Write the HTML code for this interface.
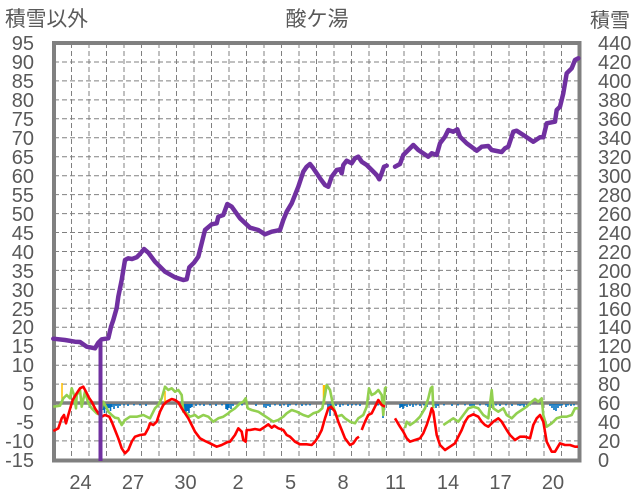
<!DOCTYPE html>
<html><head><meta charset="utf-8"><style>
html,body{margin:0;padding:0;background:#fff;}
svg{display:block;}
text{font-family:"Liberation Sans","Noto Sans CJK JP",sans-serif;fill:#595959;}
</style></head><body>
<svg width="636" height="501" viewBox="0 0 636 501" xmlns="http://www.w3.org/2000/svg">
<rect width="636" height="501" fill="#fff"/>
<!-- titles -->
<text x="5" y="26" font-size="20.75">積雪以外</text>
<text x="317" y="26" font-size="21" text-anchor="middle">酸ケ湯</text>
<text x="590" y="27" font-size="20">積雪</text>
<!-- grid -->
<g stroke="#808080" stroke-width="1" stroke-dasharray="5 3" fill="none">
<path d="M71.5 43V460M89 43V460M106.5 43V460M124 43V460M141.5 43V460M159 43V460M176.5 43V460M194 43V460M211.5 43V460M229 43V460M246.5 43V460M264 43V460M281.5 43V460M299 43V460M316.5 43V460M334 43V460M351.5 43V460M369 43V460M386.5 43V460M404 43V460M421.5 43V460M439 43V460M456.5 43V460M474 43V460M491.5 43V460M509 43V460M526.5 43V460M544 43V460M561.5 43V460"/>
<path d="M54 62H579M54 80.9H579M54 99.9H579M54 118.8H579M54 137.8H579M54 156.7H579M54 175.7H579M54 194.6H579M54 213.6H579M54 232.5H579M54 251.5H579M54 270.4H579M54 289.4H579M54 308.3H579M54 327.3H579M54 346.2H579M54 365.2H579M54 384.1H579M54 422H579M54 440.9H579"/>
</g>
<!-- border -->
<rect x="54" y="43" width="525.5" height="417.5" fill="none" stroke="#808080" stroke-width="4"/>
<!-- zero line -->
<line x1="54" y1="403" x2="579" y2="403" stroke="#808080" stroke-width="3.5"/>
<!-- blue bars -->
<path stroke="#0070c0" stroke-width="1.6" fill="none" d="M103 404V410M104.5 404V413M106 404V409M107.5 404V412M109 404V408M110.5 404V411M112 404V407M114 404V409M116 404V406M118 404V408M120 404V406M124 404V405.5M128 404V406M134 404V405.5M140 404V405.5M146 404V406M183 404V409M184.5 404V412M186 404V414M187.5 404V411M189 404V413M190.5 404V408M192 404V407M196 404V406M200 404V405.5M204 404V406M210 404V405.5M216 404V406M222 404V405.5M226 404V409M227.5 404V410M229 404V408M231 404V409M233 404V406M238 404V405.5M242 404V405.5M256 404V406M264 404V407M266 404V408M268 404V406M270 404V407M275 404V405.5M280 404V406M284 404V405.5M288 404V407M290 404V405.5M296 404V405.5M302 404V406M306 404V405.5M310 404V405.5M328 404V408M330 404V416M331.5 404V410M333 404V408M336 404V406M340 404V407M343 404V405.5M348 404V406M352 404V405.5M356 404V405.5M360 404V406M376 404V406M378 404V405.5M383 404V418M384.5 404V410M400 404V408M401.5 404V407M403 404V409M405 404V406M407 404V407M410 404V406M413 404V407M416 404V405.5M420 404V406M424 404V405.5M427 404V407M434 404V406M436 404V408M438 404V406M444 404V405.5M452 404V406M458 404V405.5M465 404V405.5M470 404V406M472 404V408M474 404V406M480 404V405.5M486 404V405.5M488 404V407M490 404V410M492 404V406M496 404V405.5M500 404V406M506 404V405.5M512 404V406M518 404V405.5M520 404V406M522 404V405.5M524 404V407M527 404V406M530 404V405.5M550 404V406M552 404V408M554 404V410M556 404V411M558 404V408M560 404V406M562 404V405.5M566 404V407M568 404V405.5M571 404V406M574 404V405.5"/>
<!-- yellow spikes -->
<path stroke="#ffc000" fill="none" stroke-width="1.5" d="M62 383V403M165 391V403"/>
<path stroke="#ffc000" fill="none" stroke-width="2.5" d="M324 385V403"/>
<!-- green -->
<g stroke="#92d050" stroke-width="2.6" fill="none" stroke-linejoin="round">
<polyline points="53.3,406.7 60,405.7 63.3,398.3 66.7,395 70,398.3 71.7,388.3 74,395 76,408.3 76.7,395 80,390 81.7,406.7 85,391.7 88.3,403.3 91.7,408.3 96.7,413.3 100,415 103.3,401.7 106,406.7 108.3,411.7 111.7,415 115,417.7 118.3,418.3 121.7,425 125,420 130,416.7 136.7,416.7 143.3,415 150,418.3 155,408.3 158.3,405 161.7,398.3 165,386.7 168.3,390 171.7,388.3 175,391.7 178.3,390 181.7,395 183.3,411.7 186.7,413.3 190,416.7 195,415 198.3,417.7 203.3,415 208.3,416.7 213.3,421.7 218.3,418.3 223.3,416.7 228.3,413.3 230,411.7 235,408.3 240,403.3 243.3,401.7 245.7,398.3 247.7,408.3 251.7,410 258.3,411.7 263.3,415 268.3,418.3 273.3,421.7 278.3,420 283.3,416.7 286.7,413.3 291.7,410 296.7,411.7 303.3,415 308.3,416.7 313.3,413.3 318.3,411.7 322.3,408.3 325,395 326.7,385 330,390 331.7,398.3 333.3,406.7 336.7,416.7 341.7,415 345,418.3 350,421.7 355,423.3 358.3,418.3 363.3,415 366.7,406.7 369,388.3 371.7,395 375,393.3 378.3,390 381.7,395 383.3,415 385,388.3 386.7,386.7"/>
<polyline points="405,428 406.7,421.7 410,425 415,421.7 420,416.7 425,408.3 428.3,398.3 430.7,388.3 432.3,386.7 433.3,408.3"/>
<polyline points="443.3,425 448.3,421.7 453.3,418.3 458.3,421.7 463.3,415 468.3,408.3 473.3,406.7 478.3,408.3 483.3,415 488.3,418.3 491.7,390 493.3,408.3 498.3,411.7 503.3,408.3 506.7,415 511.7,418.3 516.7,413.3 521.7,410 526.7,406.7 531.7,401.7 535,399 538.3,401.7 541.7,398.3 543.3,415 546.7,426.7 551.7,423.3 556.7,418.3 561.7,416.7 566.7,416.7 571.7,415 575,408.3 578.3,408.3"/>
</g>
<!-- red -->
<g stroke="#ff0000" stroke-width="2.6" fill="none" stroke-linejoin="round">
<polyline points="53.3,431 58.3,428.3 61.7,418.3 64,415 66,423.3 68.3,415 70.7,406.7 72.7,400 76.7,393.3 80,388.3 83.3,386.7 86,391.7 89.3,398.3 91.7,401.7 95,408.3 98.3,413.3 101.7,416.7 105,415 109.3,416.7 111.7,421.7 115,430 118.3,438.3 121.7,448.3 125,453.3 128.3,450 131.7,441.7 135,436.7 140,435 145,434.3 148.3,428.3 150,423.3 153.3,425 156.7,421.7 160,411.7 163.3,405 166.7,401.7 171.7,399 175,400 178.3,402.3 181.7,408.3 185,413.3 188.3,418.3 191.7,425 195,431.7 200,438.3 205,441 210,443.3 216.7,446.7 221.7,445 228.3,441.7 230,441.7 235,435 238.3,428.3 241.7,431.7 243.3,440 245.7,441.7 246.7,430 250,430 255,429 260,430 265,426.7 268.3,424.3 271.7,427.7 274.3,425.7 278.3,428.3 283.3,430 286.7,435 290,436.7 295,441.7 300,444.3 306.7,444.3 311.7,445 315,441.7 318.3,436.7 321.7,430 325,418.3 328.3,408.3 331,406.7 335,411.7 338.3,421.7 341.7,430 345,438.3 350,445 353.3,443.3 356.7,438.3 359,436.7"/>
<polyline points="361.7,430 365,421.7 368.3,415 371.7,413.3 375,406.7 378.3,400 381.7,405 385,406.7"/>
<polyline points="395,418.3 400,426.7 403.3,431.7 406.7,438.3 410,441.7 415,440 420,438.3 423.3,433.3 426.7,425 430,415 431.7,408.3 433.3,411.7 436.7,435 440,445 445,450 450,446.7 455,443.3 458.3,436.7 461.7,430 465,421.7 468.3,416.7 473.3,414.3 478.3,416.7 481.7,421.7 485,425 488.3,426.7 493.3,421.7 498.3,418.3 501.7,421.7 506.7,430 510,435 515,440 520,436.7 525,436.7 530,438.3 533.3,425 536.7,418.3 540,415 543.3,421.7 546.7,441.7 551.7,451.7 555,451.7 560,443.3 565,445 570,445 575,446.7 578,446.7"/>
</g>
<!-- purple -->
<g stroke="#7030a0" stroke-width="4.5" fill="none" stroke-linejoin="round" stroke-linecap="round">
<polyline points="53.3,338.7 65,340 75,341.7 80,342 86.7,346.7 95,348.3 98.3,342.7 101.7,339.3 108.3,338.3 111,326.7 113.3,320 116.7,308 118.3,296.7 121.7,280 125,260 128.3,258.3 132,259 136.7,257.3 140,254 144,249 148.3,252.7 155,261.7 165,271.7 175,277.3 183.3,280 186.7,279.3 189.3,267.3 194,262.7 198.3,256.7 201,246 205,230 211.7,224.3 216.7,223.3 218.3,216.7 223.3,215 227.3,204 231.7,206.7 240,218.3 250,227.7 258.3,230 265,234.3 271.7,231.7 276.7,230.7 280,230 283.3,220 286.7,211.7 291.7,203.3 295,195 298.3,186.7 303.3,171.7 306.7,166.7 310,164 313.3,168.3 320,178.3 325,185 328.3,186.7 331.7,176.7 336.7,170 340,169.3 341.7,173.3 343.3,165 346.7,160.7 351.7,163.3 355,158.3 358.3,156.7 361.7,161.7 366.7,165 371.7,170 376.7,175 379.3,179.3 381.7,173.3 384,166.7 386.7,165.7"/>
<polyline points="395,166.7 400,164 403.3,155 408.3,150 413.3,145 418.3,150 428.3,156.7 431.7,153.3 436.7,155 440,143.3 445,136.7 448.3,130 453.3,131.7 457.3,129.3 460,136.7 466.7,143.3 476.7,150.7 481.7,146.7 488.3,146 491.7,150 501.7,152 505,148.3 508.3,146.7 513.3,131.7 516.7,130.7 523.3,135 533.3,141.7 540,137.3 543.3,137.3 546.7,123.3 555,121.7 556.7,110 560,106.7 563.3,93.3 566.7,73.3 571.7,68.3 575,60 578.3,58.3"/>
</g>
<line x1="100.5" y1="340" x2="100.5" y2="461" stroke="#7030a0" stroke-width="4"/>
<!-- left axis labels -->
<g font-size="20" text-anchor="end">
<text x="34" y="50">95</text><text x="34" y="69">90</text><text x="34" y="88">85</text><text x="34" y="107">80</text><text x="34" y="126">75</text><text x="34" y="145">70</text><text x="34" y="164">65</text><text x="34" y="183">60</text><text x="34" y="202">55</text><text x="34" y="221">50</text><text x="34" y="240">45</text><text x="34" y="259">40</text><text x="34" y="278">35</text><text x="34" y="297">30</text><text x="34" y="316">25</text><text x="34" y="334">20</text><text x="34" y="353">15</text><text x="34" y="372">10</text><text x="34" y="391">5</text><text x="34" y="410">0</text><text x="34" y="429">-5</text><text x="34" y="448">-10</text><text x="34" y="467">-15</text>
</g>
<!-- right axis labels -->
<g font-size="20" text-anchor="start">
<text x="598" y="50">440</text><text x="598" y="69">420</text><text x="598" y="88">400</text><text x="598" y="107">380</text><text x="598" y="126">360</text><text x="598" y="145">340</text><text x="598" y="164">320</text><text x="598" y="183">300</text><text x="598" y="202">280</text><text x="598" y="221">260</text><text x="598" y="240">240</text><text x="598" y="259">220</text><text x="598" y="278">200</text><text x="598" y="297">180</text><text x="598" y="316">160</text><text x="598" y="334">140</text><text x="598" y="353">120</text><text x="598" y="372">100</text><text x="598" y="391">80</text><text x="598" y="410">60</text><text x="598" y="429">40</text><text x="598" y="448">20</text><text x="598" y="467">0</text>
</g>
<!-- x axis labels -->
<g font-size="20" text-anchor="middle">
<text x="80.5" y="489">24</text><text x="133" y="489">27</text><text x="185.5" y="489">30</text><text x="238" y="489">2</text><text x="290.5" y="489">5</text><text x="343" y="489">8</text><text x="395.5" y="489">11</text><text x="448" y="489">14</text><text x="500.5" y="489">17</text><text x="553" y="489">20</text>
</g>
</svg>
</body></html>
